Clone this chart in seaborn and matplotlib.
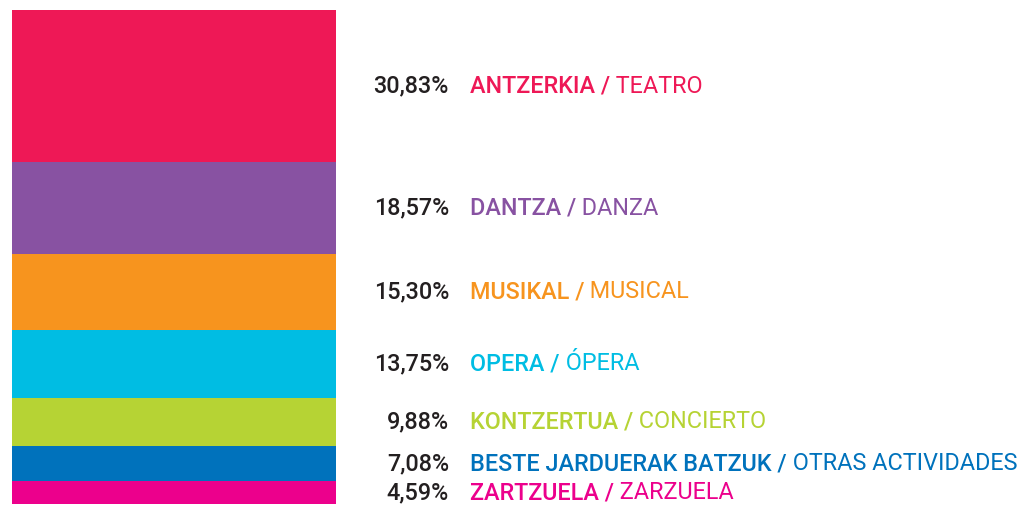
import numpy as np
import matplotlib
matplotlib.use("Agg")
import matplotlib.pyplot as plt
import matplotlib.transforms as mtransforms
import seaborn as sns

# datos del gráfico
pct = [30.83, 18.57, 15.30, 13.75, 9.88, 7.08, 4.59]
pct_labels = ["30,83%", "18,57%", "15,30%", "13,75%", "9,88%", "7,08%", "4,59%"]
eu_names = ["ANTZERKIA", "DANTZA", "MUSIKAL", "OPERA", "KONTZERTUA",
            "BESTE JARDUERAK BATZUK", "ZARTZUELA"]
es_names = ["TEATRO", "DANZA", "MUSICAL", "ÓPERA", "CONCIERTO",
            "OTRAS ACTIVIDADES", "ZARZUELA"]
colors = ["#ee1856", "#8852a2", "#f7941e", "#00bde3", "#b6d334", "#0072bc", "#ec008c"]

sns.set_style("white")
plt.rcParams['font.family'] = ['Roboto', 'DejaVu Sans']

fig = plt.figure(figsize=(10.23, 5.05), dpi=100)
ax = fig.add_axes([0, 0, 1, 1])

bottoms = np.concatenate([[0], np.cumsum(pct)[:-1]])
for v, b, c in zip(pct, bottoms, colors):
    sns.barplot(x=["x"], y=[v], bottom=b, color=c, saturation=1, width=1,
                linewidth=0, ax=ax)

# la barra ocupa de 12px a 336px, de 10px arriba hasta abajo
unit = 324.0
left = -0.5 - 12 / unit
ax.set_xlim(left, left + 1023 / unit)
px = 494.0 / 100
ax.set_ylim((505 - 10) / px, -10 / px)
ax.axis("off")

fs = 16.8
trans = mtransforms.blended_transform_factory(fig.transFigure, ax.transData)
for i, (v, b) in enumerate(zip(pct, bottoms)):
    yc = b + v / 2
    ax.text(449 / 1023, yc, pct_labels[i], transform=trans, ha="right", va="center",
            fontsize=fs, color="#231f20", fontweight="medium")
    t1 = ax.text(470 / 1023, yc, eu_names[i] + " /", transform=trans, ha="left",
                 va="center", fontsize=fs, color=colors[i], fontweight="medium")
    ax.annotate(" " + es_names[i], xy=(1, 0), xycoords=t1, xytext=(0, 0),
                textcoords="offset points", ha="left", va="bottom",
                fontsize=fs, color=colors[i], fontweight="normal")

fig.savefig("out.png", dpi=100)
